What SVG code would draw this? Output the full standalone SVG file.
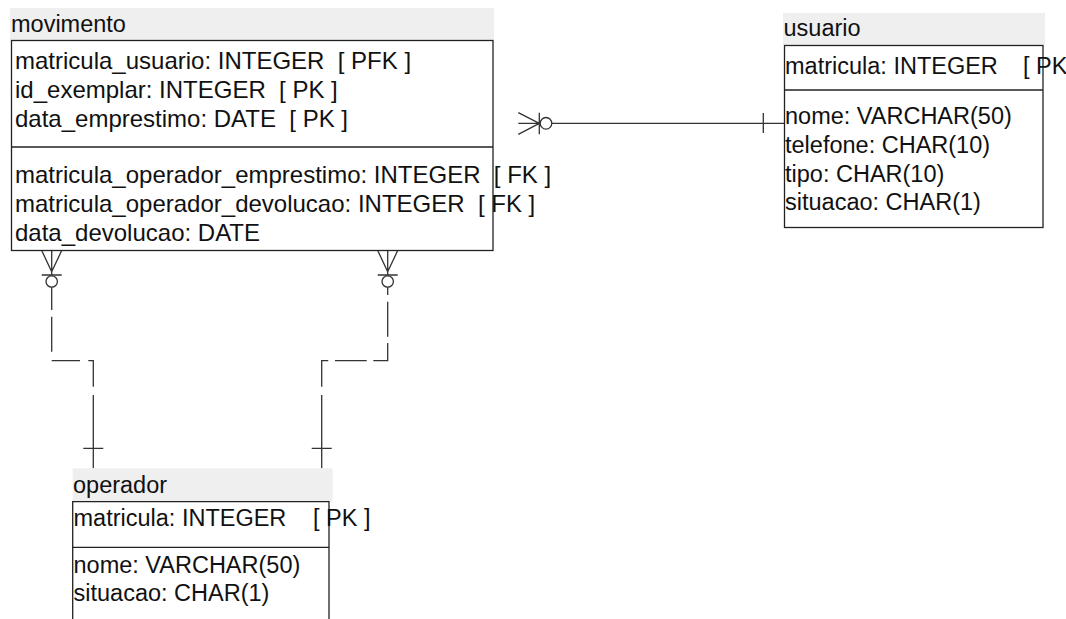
<svg xmlns="http://www.w3.org/2000/svg" width="1066" height="619" viewBox="0 0 1066 619">
<style>
.hdr{fill:#efefef}
.box{fill:#fff;stroke:#222;stroke-width:1.3}
.div{stroke:#222;stroke-width:1.3;fill:none}
.t{font-family:"Liberation Sans",Arial,sans-serif;font-size:23.5px;fill:#111;white-space:pre}
.tm{font-size:24px}
.c{stroke:#333;stroke-width:1.3;fill:none}
.o{stroke:#333;stroke-width:1.3;fill:#fff}
</style>
<rect width="1066" height="619" fill="#fff"/>
<g id="connectors">
  <!-- movimento -> usuario -->
  <path class="c" d="M518.3,123.3 H784 M518.3,112.7 L539.3,123.3 M518.3,134.3 L539.3,123.3 M539.3,112.7 V134.3 M763.3,113 V133"/>
  <circle class="o" cx="546" cy="123.3" r="5.8"/>
  <!-- movimento -> operador (left) -->
  <path class="c" d="M51.7,250.5 V310 M51.7,316.7 V351.7 M51.7,360.7 H80 M88.3,360.7 H93.3 V386.7 M93.3,395 V468.3 M83.3,448.3 H103.3 M41.7,250.5 L51.7,271.7 M61.7,250.5 L51.7,271.7 M41.7,275 H61.7"/>
  <circle class="o" cx="51.7" cy="281.5" r="5.7"/>
  <!-- movimento -> operador (right) -->
  <path class="c" d="M387.7,250.5 V295 M387.7,301.7 V336.7 M387.7,343 V360.7 H373.3 M366.7,360.7 H335 M328.3,360.7 H321.7 V386.7 M321.7,395 V468.3 M311.7,448.3 H331.7 M377.7,250.5 L387.7,271.7 M397.7,250.5 L387.7,271.7 M377.7,275 H397.7"/>
  <circle class="o" cx="387.7" cy="281.5" r="5.7"/>
</g>
<g id="movimento">
  <rect class="hdr" x="10" y="8" width="484" height="32"/>
  <text class="t" x="11" y="32">movimento</text>
  <rect class="box" x="11.5" y="40.5" width="481.5" height="210"/>
  <line class="div" x1="11.5" y1="147" x2="493" y2="147"/>
  <text class="t tm" x="15" y="69">matricula_usuario: INTEGER  [ PFK ]</text>
  <text class="t tm" x="15" y="98">id_exemplar: INTEGER  [ PK ]</text>
  <text class="t tm" x="15" y="127">data_emprestimo: DATE  [ PK ]</text>
  <text class="t tm" x="15" y="183">matricula_operador_emprestimo: INTEGER  [ FK ]</text>
  <text class="t tm" x="15" y="212">matricula_operador_devolucao: INTEGER  [ FK ]</text>
  <text class="t tm" x="15" y="241">data_devolucao: DATE</text>
</g>
<g id="usuario">
  <rect class="hdr" x="783" y="13" width="262" height="32"/>
  <text class="t" x="783.5" y="36">usuario</text>
  <rect class="box" x="784.5" y="45.5" width="258.5" height="182"/>
  <line class="div" x1="784.5" y1="90" x2="1043" y2="90"/>
  <text class="t" x="785" y="74">matricula: INTEGER<tspan x="1023">[ PK ]</tspan></text>
  <text class="t" x="785" y="123.5">nome: VARCHAR(50)</text>
  <text class="t" x="785" y="152.5">telefone: CHAR(10)</text>
  <text class="t" x="785" y="181.5">tipo: CHAR(10)</text>
  <text class="t" x="785" y="210">situacao: CHAR(1)</text>
</g>
<g id="operador">
  <rect class="hdr" x="72.7" y="468.3" width="260" height="33.4"/>
  <text class="t" x="73" y="493">operador</text>
  <path class="div" d="M72.7,619 V501.7 H329 V619" style="fill:#fff"/>
  <line class="div" x1="72.7" y1="547.3" x2="329" y2="547.3"/>
  <text class="t" x="73.5" y="526">matricula: INTEGER<tspan x="313">[ PK ]</tspan></text>
  <text class="t" x="73.5" y="573">nome: VARCHAR(50)</text>
  <text class="t" x="73.5" y="601">situacao: CHAR(1)</text>
</g>
</svg>
